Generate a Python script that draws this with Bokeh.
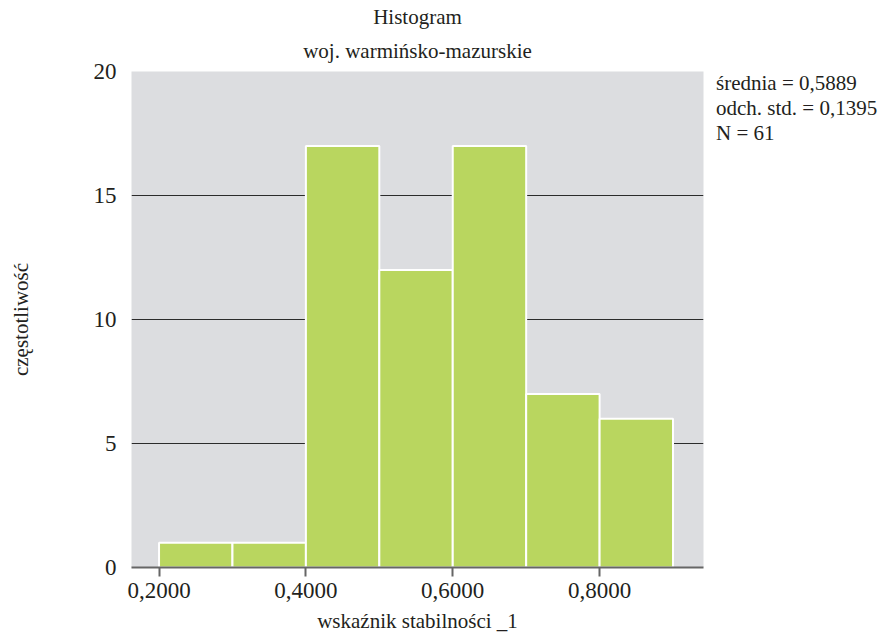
from bokeh.plotting import figure
from bokeh.models import (Range1d, FixedTicker, CustomJSTickFormatter, Title,
                          Legend, LegendItem)
from bokeh.embed import file_html
from bokeh.resources import INLINE

# data
bin_left = [0.2, 0.3, 0.4, 0.5, 0.6, 0.7, 0.8]
bin_right = [0.3, 0.4, 0.5, 0.6, 0.7, 0.8, 0.9]
counts = [1, 1, 17, 12, 17, 7, 6]
x_ticks = [0.2, 0.4, 0.6, 0.8]
y_ticks = [0, 5, 10, 15, 20]
title_lines = ["Histogram", "woj. warmińsko-mazurskie"]
stats_lines = ["średnia = 0,5889", "odch. std. = 0,1395", "N = 61"]
x_label = "wskaźnik stabilności _1"
y_label = "częstotliwość"

FONT = "Liberation Serif"
TXT = "#231f20"

p = figure(frame_width=572, frame_height=496, output_backend="svg", toolbar_location=None,
           x_range=Range1d(0.1625, 0.9415), y_range=Range1d(0, 20),
           min_border_left=131, min_border_right=0, min_border_top=71, min_border_bottom=67)
p.border_fill_color = "white"
p.outline_line_color = None
p.background_fill_color = "#dcdde0"

p.quad(left=bin_left, right=bin_right, top=counts, bottom=0,
       fill_color="#b9d65f", line_color="white", line_width=2)

p.xgrid.visible = False
p.ygrid.ticker = FixedTicker(ticks=y_ticks)
p.ygrid.grid_line_color = "#2b2b2b"
p.ygrid.grid_line_width = 1

p.xaxis.ticker = FixedTicker(ticks=x_ticks)
p.xaxis.formatter = CustomJSTickFormatter(code="return tick.toFixed(4).replace('.', ',');")
p.xaxis.axis_line_color = "#666666"
p.xaxis.axis_line_width = 2
p.xaxis.major_tick_line_color = "#666666"
p.xaxis.major_tick_line_width = 2
p.xaxis.major_tick_out = 9
p.xaxis.major_tick_in = 0
p.xaxis.minor_tick_line_color = None
p.xaxis.major_label_standoff = 6
p.xaxis.axis_label = x_label
p.xaxis.axis_label_standoff = 8

p.yaxis.ticker = FixedTicker(ticks=y_ticks)
p.yaxis.axis_line_color = None
p.yaxis.major_tick_line_color = None
p.yaxis.minor_tick_line_color = None
p.yaxis.major_label_standoff = 9
p.yaxis.axis_label = y_label
p.yaxis.axis_label_standoff = 58

for ax in (p.xaxis[0], p.yaxis[0]):
    ax.major_label_text_font = FONT
    ax.major_label_text_font_size = "23px"
    ax.major_label_text_color = TXT
    ax.axis_label_text_font = FONT
    ax.axis_label_text_font_size = "21px"
    ax.axis_label_text_font_style = "normal"
    ax.axis_label_text_color = TXT

# title: first added sits closest to the frame
p.add_layout(Title(text=title_lines[1], align="center", text_font=FONT, text_font_size="21px",
                   text_font_style="normal", text_color=TXT, standoff=17), "above")
p.add_layout(Title(text=title_lines[0], align="center", text_font=FONT, text_font_size="21px",
                   text_font_style="normal", text_color=TXT, standoff=0), "above")

# statistics at the right of the plot
items = [LegendItem(label=s, renderers=[]) for s in stats_lines]
leg = Legend(items=items, location="top_left", orientation="vertical",
             glyph_width=13, glyph_height=25, label_height=25, label_standoff=0,
             padding=0, margin=0, spacing=0, border_line_color=None,
             background_fill_alpha=0, label_text_font=FONT, label_text_font_size="21px",
             label_text_color=TXT, label_text_baseline="middle")
p.add_layout(leg, "right")

open("out.html", "w").write(file_html(p, INLINE))
